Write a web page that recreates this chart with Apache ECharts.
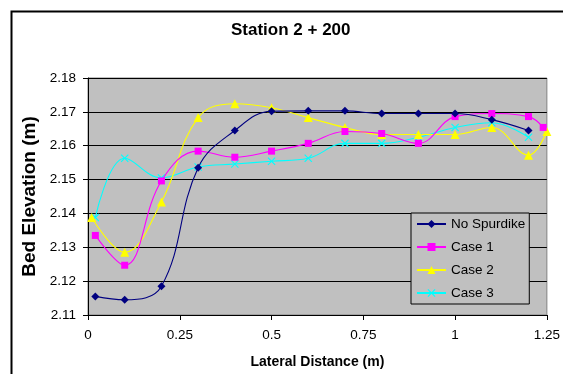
<!DOCTYPE html>
<html>
<head>
<meta charset="utf-8">
<script src="https://cdn.jsdelivr.net/npm/echarts@6/dist/echarts.min.js"></script>
<style>html,body{margin:0;padding:0;background:#fff}#c{width:563px;height:374px}</style>
</head>
<body>
<div id="c"></div>
<script>
const titleText = 'Station 2 + 200';
const xName = 'Lateral Distance (m)';
const yName = 'Bed Elevation (m)';
const seriesNames = ['No Spurdike', 'Case 1', 'Case 2', 'Case 3'];

const xNoSpur = [0.02, 0.1, 0.2, 0.3, 0.4, 0.5, 0.6, 0.7, 0.8, 0.9, 1.0, 1.1, 1.2];
const yNoSpur = [2.1155, 2.1145, 2.1185, 2.1535, 2.1645, 2.1702, 2.1703, 2.1703, 2.1695, 2.1695, 2.1695, 2.1677, 2.1645];

const xCase1 = [0.02, 0.1, 0.2, 0.3, 0.4, 0.5, 0.6, 0.7, 0.8, 0.9, 1.0, 1.1, 1.2, 1.24];
const yCase1 = [2.1335, 2.1247, 2.1496, 2.1584, 2.1566, 2.1584, 2.1607, 2.1642, 2.1636, 2.1607, 2.1686, 2.1695, 2.1686, 2.1654];

const xCase2 = [0.01, 0.1, 0.2, 0.3, 0.4, 0.5, 0.6, 0.7, 0.8, 0.9, 1.0, 1.1, 1.2, 1.25];
const yCase2 = [2.1388, 2.1285, 2.1434, 2.1683, 2.1724, 2.1712, 2.1683, 2.1654, 2.1633, 2.1633, 2.1633, 2.1654, 2.1572, 2.1642];

const xCase3 = [0.02, 0.1, 0.2, 0.3, 0.4, 0.5, 0.6, 0.7, 0.8, 0.9, 1.0, 1.1, 1.2];
const yCase3 = [2.1388, 2.1563, 2.1505, 2.1537, 2.1546, 2.1554, 2.1563, 2.1607, 2.1607, 2.1625, 2.1654, 2.1668, 2.1625];

const xMin = 0, xMax = 1.25, xStep = 0.25;
const yMin = 2.11, yMax = 2.18, yStep = 0.01;

const FONT = '"Liberation Sans", Arial, sans-serif';
const pair = (xs, ys) => xs.map((x, i) => [x, ys[i]]);
const xMark = 'path://M1,0 L5,4 L9,0 L10,1 L6,5 L10,9 L9,10 L5,6 L1,10 L0,9 L4,5 L0,1 Z';

const colors = ['#000080', '#FF00FF', '#FFFF00', '#00FFFF'];
const symbols = ['diamond', 'rect', 'triangle', xMark];
const sizes = [8, 7, 9, 8];
const datasets = [pair(xNoSpur, yNoSpur), pair(xCase1, yCase1), pair(xCase2, yCase2), pair(xCase3, yCase3)];

const chart = echarts.init(document.getElementById('c'), null, {renderer: 'canvas'});
chart.setOption({
  animation: false,
  backgroundColor: '#ffffff',
  textStyle: {fontFamily: FONT},
  title: {
    text: titleText, left: 231, top: 22, padding: 0,
    textStyle: {fontFamily: FONT, fontSize: 17, fontWeight: 'bold', color: '#000'}
  },
  graphic: [{
    type: 'rect', left: 9, top: 9, silent: true, z: -10,
    shape: {x: 0, y: 0, width: 620, height: 420},
    style: {fill: 'none', stroke: '#000', lineWidth: 2}
  }],
  grid: {
    left: 88, right: 12, top: 78, bottom: 57, show: true,
    backgroundColor: '#C0C0C0', borderColor: '#808080', borderWidth: 1
  },
  legend: {
    orient: 'vertical', left: 411, top: 213,
    backgroundColor: '#C0C0C0', borderColor: '#000', borderWidth: 1,
    padding: [4, 4, 4, 5], itemGap: 9, itemWidth: 29, itemHeight: 10,
    textStyle: {fontFamily: FONT, fontSize: 13.5, color: '#000', lineHeight: 14},
    data: seriesNames
  },
  xAxis: {
    type: 'value', min: xMin, max: xMax, interval: xStep,
    name: xName, nameLocation: 'middle', nameGap: 40,
    nameTextStyle: {fontFamily: FONT, fontSize: 14, fontWeight: 'bold', color: '#000'},
    axisLine: {lineStyle: {color: '#000', width: 1}},
    axisTick: {show: true, inside: false, length: 5, lineStyle: {color: '#000'}},
    axisLabel: {fontFamily: FONT, fontSize: 13.5, color: '#000', margin: 13},
    splitLine: {show: false}
  },
  yAxis: {
    type: 'value', min: yMin, max: yMax, interval: yStep,
    name: yName, nameLocation: 'middle', nameGap: 39, nameRotate: 90,
    nameTextStyle: {fontFamily: FONT, fontSize: 19, fontWeight: 'bold', color: '#000'},
    axisLine: {show: true, lineStyle: {color: '#000', width: 1}},
    axisTick: {show: true, inside: false, length: 5, lineStyle: {color: '#000'}},
    axisLabel: {fontFamily: FONT, fontSize: 13.5, color: '#000', margin: 12,
      formatter: v => v.toFixed(2)},
    splitLine: {show: true, lineStyle: {color: '#000', width: 1}}
  },
  series: seriesNames.map((n, i) => ({
    name: n, type: 'line', smooth: 0.4,
    data: datasets[i],
    symbol: symbols[i], symbolSize: sizes[i],
    itemStyle: {color: colors[i]},
    lineStyle: {color: colors[i], width: 1.1},
    z: 10 - i
  }))
});
</script>
</body>
</html>
